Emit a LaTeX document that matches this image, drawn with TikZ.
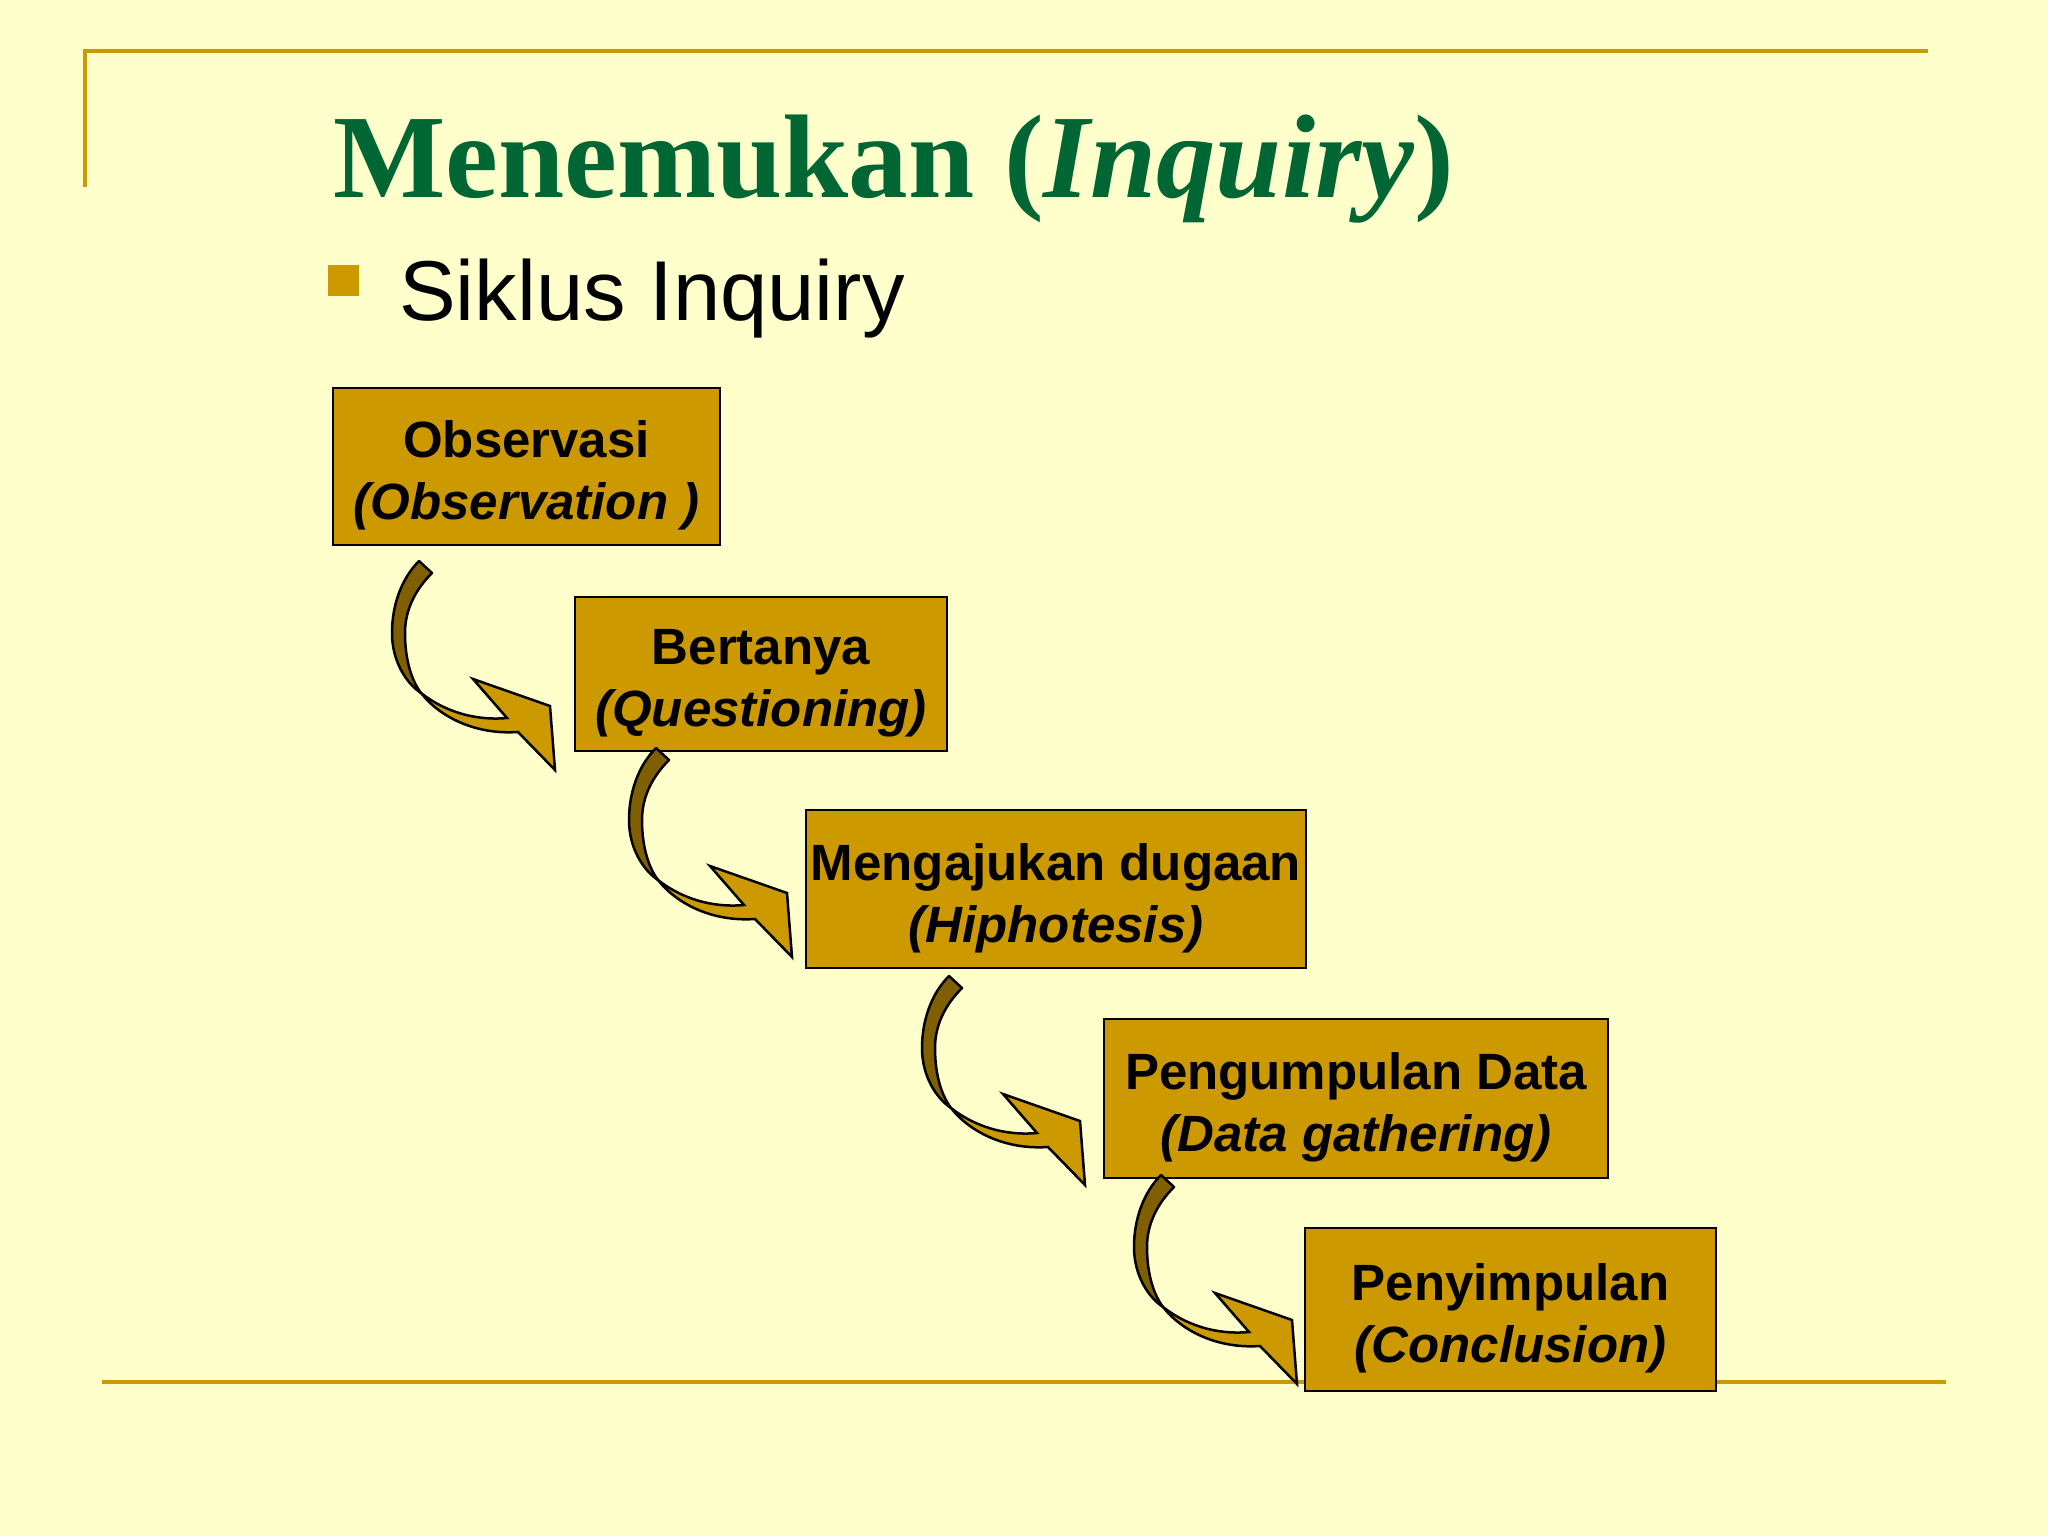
\documentclass[tikz,border=0pt]{standalone}
\usepackage{fontspec}
\setmainfont{Liberation Serif}
\setsansfont{Liberation Sans}
\usetikzlibrary{calc}
\definecolor{bgcol}{HTML}{FFFFCC}
\definecolor{gold}{HTML}{CC9900}
\definecolor{arrowdark}{HTML}{805F00}
\definecolor{titlegreen}{HTML}{006633}
\tikzset{
  rule/.style={draw=gold, line width=4pt},
  stepbox/.style={draw=black, fill=gold, line width=2pt, rectangle, inner sep=0pt},
  boxtext/.style={align=center, inner sep=0pt, text=black,
    font=\sffamily\bfseries\fontsize{51}{62}\selectfont},
  curvarrow/.pic={
    \filldraw[fill=arrowdark, draw=black, line width=2.5pt, line join=round]
      (0,0) -- (13,12) .. controls (-3,28) and (-14,48) .. (-14,72)
      .. controls (-14,100) and (-7,120) .. (2,132)
      .. controls (-13,122) and (-27,100) .. (-27,72)
      .. controls (-27,45) and (-18,18) .. cycle;
    \filldraw[fill=gold, draw=black, line width=2.5pt]
      (2,132) .. controls (25,150) and (55,160) .. (88,157)
      -- (54,118) -- (131,145) -- (136,209) -- (99,171)
      .. controls (55,174) and (20,155) .. (2,132) -- cycle;
  }
}
\begin{document}
\begin{tikzpicture}[x=1pt,y=-1pt]
\useasboundingbox (0,0) rectangle (2048,1536);
\fill[bgcol] (0,0) rectangle (2048,1536);
% frame rules
\draw[rule] (85,187) -- (85,51) -- (1928,51);
\draw[rule] (102,1382) -- (1946,1382);
% title
\node[anchor=base west, inner sep=0pt, text=titlegreen,
  font=\bfseries\fontsize{119}{130}\selectfont] (title) at (333,197)
  {Menemukan (\textit{Inquiry})};
% bullet
\fill[gold] (328,265) rectangle (359,296);
\node[anchor=base west, inner sep=0pt,
  font=\sffamily\fontsize{85}{100}\selectfont] (sub) at (399,320) {Siklus Inquiry};
% boxes
\node[stepbox, minimum width=387pt, minimum height=157pt] (b1) at (526.5,466.5) {};
\node[stepbox, minimum width=372pt, minimum height=154pt] (b2) at (761,674) {};
\node[stepbox, minimum width=500pt, minimum height=158pt] (b3) at (1056,889) {};
\node[stepbox, minimum width=504pt, minimum height=159pt] (b4) at (1356,1098.5) {};
\node[stepbox, minimum width=411pt, minimum height=163pt] (b5) at (1510.5,1309.5) {};
\node[boxtext] (t1) at ([yshift=-9pt]b1.center) {Observasi\\\textit{(Observation )}};
\node[boxtext] (t2) at ([yshift=-9pt]b2.center) {Bertanya\\\textit{(Questioning)}};
\node[boxtext] (t3) at ([yshift=-9pt]b3.center) {Mengajukan dugaan\\\textit{(Hiphotesis)}};
\node[boxtext] (t4) at ([yshift=-9pt]b4.center) {Pengumpulan Data\\\textit{(Data gathering)}};
\node[boxtext] (t5) at ([yshift=-9pt]b5.center) {Penyimpulan\\\textit{(Conclusion)}};
% curved arrows
\pic at (419,561) {curvarrow};
\pic at (656,748) {curvarrow};
\pic at (949,976) {curvarrow};
\pic at (1161,1175) {curvarrow};
\end{tikzpicture}
\end{document}
